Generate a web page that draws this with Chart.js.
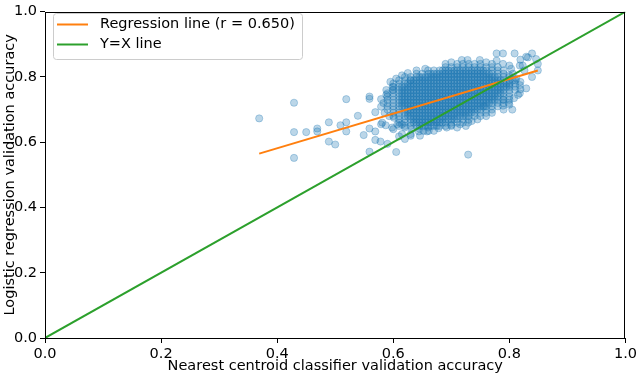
<!DOCTYPE html>
<html>
<head>
<meta charset="utf-8">
<script src="https://cdn.jsdelivr.net/npm/chart.js@4/dist/chart.umd.min.js"></script>
<style>
  html, body { margin: 0; padding: 0; background: #fff; }
  #wrap { width: 640px; height: 376px; }
</style>
</head>
<body>
<div id="wrap"><canvas id="chart" width="640" height="376"></canvas></div>
<script>
// axis ticks (both axes)
const tickValues = [0, 0.2, 0.4, 0.6, 0.8, 1.0];

// regression line end points
const regX = [0.369, 0.849];
const regY = [0.565, 0.820];

// y = x reference line
const identityX = [0, 1];
const identityY = [0, 1];

// sparse points around the cloud (nearest centroid acc, logistic regression acc)
const sparseNcc = [
  0.369, 0.429, 0.429, 0.450, 0.429, 0.469, 0.469, 0.489, 0.489, 0.500,
  0.509, 0.519, 0.519, 0.519, 0.539, 0.549, 0.559, 0.559, 0.559, 0.559,
  0.569, 0.569, 0.569, 0.578, 0.579, 0.579, 0.588, 0.599, 0.599, 0.590,
  0.579, 0.587, 0.600, 0.630,
  0.620, 0.632, 0.645, 0.660, 0.678, 0.692, 0.700, 0.630, 0.644, 0.658,
  0.646, 0.670, 0.610, 0.620, 0.605, 0.729, 0.729, 0.715,
  0.778, 0.789, 0.809, 0.839, 0.829, 0.846, 0.819, 0.718, 0.728, 0.749,
  0.778, 0.789, 0.849, 0.823, 0.803, 0.849, 0.806, 0.839, 0.806, 0.819,
  0.818, 0.819, 0.789, 0.799, 0.789, 0.757, 0.800,
  0.581, 0.598, 0.593, 0.601, 0.607, 0.615, 0.615, 0.630, 0.652, 0.661,
  0.585, 0.590, 0.583, 0.588, 0.595, 0.605, 0.615, 0.625, 0.640, 0.655,
  0.690, 0.700, 0.760, 0.770, 0.780, 0.790, 0.800, 0.812, 0.815, 0.808,
  0.805, 0.790, 0.770, 0.760, 0.745, 0.735, 0.725, 0.710,
  0.800, 0.818, 0.826, 0.818, 0.800, 0.829, 0.832
];
const sparseLr = [
  0.673, 0.721, 0.631, 0.631, 0.552, 0.642, 0.633, 0.661, 0.602, 0.593,
  0.652, 0.661, 0.633, 0.732, 0.681, 0.622, 0.740, 0.733, 0.642, 0.571,
  0.692, 0.633, 0.607, 0.602, 0.732, 0.709, 0.760, 0.770, 0.760, 0.595,
  0.655, 0.652, 0.640, 0.790,
  0.645, 0.640, 0.642, 0.645, 0.643, 0.645, 0.653, 0.625, 0.633, 0.633,
  0.620, 0.635, 0.618, 0.610, 0.570, 0.660, 0.562, 0.655,
  0.872, 0.872, 0.872, 0.872, 0.862, 0.855, 0.853, 0.852, 0.852, 0.852,
  0.850, 0.840, 0.840, 0.835, 0.825, 0.820, 0.810, 0.800, 0.790, 0.785,
  0.775, 0.762, 0.730, 0.720, 0.712, 0.710, 0.715,
  0.660, 0.645, 0.680, 0.675, 0.655, 0.655, 0.625, 0.620, 0.635, 0.635,
  0.690, 0.700, 0.720, 0.745, 0.785, 0.795, 0.805, 0.812, 0.820, 0.825,
  0.840, 0.845, 0.845, 0.840, 0.830, 0.820, 0.805, 0.795, 0.745, 0.735,
  0.700, 0.700, 0.690, 0.680, 0.670, 0.665, 0.650, 0.645,
  0.835, 0.835, 0.820, 0.750, 0.775, 0.765, 0.860
];

// dense cloud: one row per logistic regression accuracy level
const cloudLr = [0.84, 0.83, 0.82, 0.81, 0.80, 0.79, 0.78, 0.77, 0.76, 0.75,
  0.74, 0.73, 0.72, 0.71, 0.70, 0.69, 0.68, 0.67, 0.66, 0.65];
const cloudNcc = [
  [0.71, 0.72, 0.73, 0.74, 0.75],
  [0.69, 0.70, 0.71, 0.72, 0.73, 0.74, 0.75, 0.76, 0.77],
  [0.66, 0.67, 0.68, 0.685, 0.69, 0.695, 0.70, 0.705, 0.71, 0.715, 0.72, 0.725, 0.73, 0.735, 0.74, 0.745, 0.75, 0.755, 0.76, 0.77, 0.78],
  [0.64, 0.65, 0.66, 0.665, 0.67, 0.675, 0.68, 0.685, 0.69, 0.695, 0.70, 0.705, 0.71, 0.715, 0.72, 0.725, 0.73, 0.735, 0.74, 0.745, 0.75, 0.755, 0.76, 0.765, 0.77, 0.78, 0.79],
  [0.62, 0.63, 0.64, 0.645, 0.65, 0.655, 0.66, 0.665, 0.67, 0.675, 0.68, 0.685, 0.69, 0.695, 0.70, 0.705, 0.71, 0.715, 0.72, 0.725, 0.73, 0.735, 0.74, 0.745, 0.75, 0.755, 0.76, 0.765, 0.77, 0.775, 0.78, 0.79, 0.80],
  [0.61, 0.62, 0.63, 0.635, 0.64, 0.645, 0.65, 0.655, 0.66, 0.665, 0.67, 0.675, 0.68, 0.685, 0.69, 0.695, 0.70, 0.705, 0.71, 0.715, 0.72, 0.725, 0.73, 0.735, 0.74, 0.745, 0.75, 0.755, 0.76, 0.765, 0.77, 0.775, 0.78, 0.785, 0.79, 0.80, 0.81],
  [0.60, 0.61, 0.62, 0.625, 0.63, 0.635, 0.64, 0.645, 0.65, 0.655, 0.66, 0.665, 0.67, 0.675, 0.68, 0.685, 0.69, 0.695, 0.70, 0.705, 0.71, 0.715, 0.72, 0.725, 0.73, 0.735, 0.74, 0.745, 0.75, 0.755, 0.76, 0.765, 0.77, 0.775, 0.78, 0.785, 0.79, 0.795, 0.80, 0.81],
  [0.60, 0.61, 0.615, 0.62, 0.625, 0.63, 0.635, 0.64, 0.645, 0.65, 0.655, 0.66, 0.665, 0.67, 0.675, 0.68, 0.685, 0.69, 0.695, 0.70, 0.705, 0.71, 0.715, 0.72, 0.725, 0.73, 0.735, 0.74, 0.745, 0.75, 0.755, 0.76, 0.765, 0.77, 0.775, 0.78, 0.785, 0.79, 0.795, 0.80, 0.81],
  [0.60, 0.61, 0.615, 0.62, 0.625, 0.63, 0.635, 0.64, 0.645, 0.65, 0.655, 0.66, 0.665, 0.67, 0.675, 0.68, 0.685, 0.69, 0.695, 0.70, 0.705, 0.71, 0.715, 0.72, 0.725, 0.73, 0.735, 0.74, 0.745, 0.75, 0.755, 0.76, 0.765, 0.77, 0.775, 0.78, 0.785, 0.79, 0.80, 0.81],
  [0.59, 0.60, 0.61, 0.615, 0.62, 0.625, 0.63, 0.635, 0.64, 0.645, 0.65, 0.655, 0.66, 0.665, 0.67, 0.675, 0.68, 0.685, 0.69, 0.695, 0.70, 0.705, 0.71, 0.715, 0.72, 0.725, 0.73, 0.735, 0.74, 0.745, 0.75, 0.755, 0.76, 0.765, 0.77, 0.775, 0.78, 0.785, 0.79, 0.80],
  [0.59, 0.60, 0.61, 0.615, 0.62, 0.625, 0.63, 0.635, 0.64, 0.645, 0.65, 0.655, 0.66, 0.665, 0.67, 0.675, 0.68, 0.685, 0.69, 0.695, 0.70, 0.705, 0.71, 0.715, 0.72, 0.725, 0.73, 0.735, 0.74, 0.745, 0.75, 0.755, 0.76, 0.765, 0.77, 0.775, 0.78, 0.79, 0.80],
  [0.59, 0.60, 0.61, 0.615, 0.62, 0.625, 0.63, 0.635, 0.64, 0.645, 0.65, 0.655, 0.66, 0.665, 0.67, 0.675, 0.68, 0.685, 0.69, 0.695, 0.70, 0.705, 0.71, 0.715, 0.72, 0.725, 0.73, 0.735, 0.74, 0.745, 0.75, 0.755, 0.76, 0.765, 0.77, 0.775, 0.78, 0.79, 0.80],
  [0.59, 0.60, 0.61, 0.615, 0.62, 0.625, 0.63, 0.635, 0.64, 0.645, 0.65, 0.655, 0.66, 0.665, 0.67, 0.675, 0.68, 0.685, 0.69, 0.695, 0.70, 0.705, 0.71, 0.715, 0.72, 0.725, 0.73, 0.735, 0.74, 0.745, 0.75, 0.755, 0.76, 0.765, 0.77, 0.78, 0.79],
  [0.59, 0.60, 0.61, 0.615, 0.62, 0.625, 0.63, 0.635, 0.64, 0.645, 0.65, 0.655, 0.66, 0.665, 0.67, 0.675, 0.68, 0.685, 0.69, 0.695, 0.70, 0.705, 0.71, 0.715, 0.72, 0.725, 0.73, 0.735, 0.74, 0.745, 0.75, 0.755, 0.76, 0.77, 0.78],
  [0.60, 0.61, 0.62, 0.625, 0.63, 0.635, 0.64, 0.645, 0.65, 0.655, 0.66, 0.665, 0.67, 0.675, 0.68, 0.685, 0.69, 0.695, 0.70, 0.705, 0.71, 0.715, 0.72, 0.725, 0.73, 0.735, 0.74, 0.745, 0.75, 0.76, 0.77],
  [0.60, 0.61, 0.62, 0.625, 0.63, 0.635, 0.64, 0.645, 0.65, 0.655, 0.66, 0.665, 0.67, 0.675, 0.68, 0.685, 0.69, 0.695, 0.70, 0.705, 0.71, 0.715, 0.72, 0.725, 0.73, 0.735, 0.74, 0.75, 0.76],
  [0.60, 0.61, 0.62, 0.625, 0.63, 0.635, 0.64, 0.645, 0.65, 0.655, 0.66, 0.665, 0.67, 0.675, 0.68, 0.685, 0.69, 0.695, 0.70, 0.705, 0.71, 0.715, 0.72, 0.725, 0.73, 0.74, 0.75],
  [0.61, 0.62, 0.63, 0.635, 0.64, 0.645, 0.65, 0.655, 0.66, 0.665, 0.67, 0.675, 0.68, 0.685, 0.69, 0.695, 0.70, 0.705, 0.71, 0.72, 0.73],
  [0.61, 0.62, 0.63, 0.635, 0.64, 0.645, 0.65, 0.655, 0.66, 0.665, 0.67, 0.675, 0.68, 0.685, 0.69, 0.70, 0.71, 0.72],
  [0.61, 0.62, 0.63, 0.64, 0.645, 0.65, 0.655, 0.66, 0.665, 0.67, 0.675, 0.68, 0.69, 0.70]
];

const scatterPoints = [];
sparseNcc.forEach((x, i) => scatterPoints.push({ x: x, y: sparseLr[i] }));
cloudLr.forEach((y, i) => cloudNcc[i].forEach((x) => scatterPoints.push({ x: x, y: y })));

const FONT = "'DejaVu Sans', 'Liberation Sans', sans-serif";
const FONT_SIZE = 14.5;

// legend inside the axes plus the full black frame
const frameAndLegend = {
  id: "frameAndLegend",
  afterDraw(chart) {
    const ctx = chart.ctx;
    const a = chart.chartArea;
    ctx.save();

    ctx.strokeStyle = "#000000";
    ctx.lineWidth = 1;
    ctx.strokeRect(Math.round(a.left) + 0.5, Math.round(a.top) + 0.5,
      Math.round(a.right - a.left) - 1, Math.round(a.bottom - a.top));

    const bx = 53, by = 13, bw = 249, bh = 46;
    ctx.beginPath();
    ctx.roundRect(bx + 0.5, by + 0.5, bw, bh, 3);
    ctx.fillStyle = "rgba(255,255,255,0.8)";
    ctx.fill();
    ctx.strokeStyle = "#cccccc";
    ctx.stroke();

    const entries = chart.data.datasets.filter((d) => d.showLine);
    entries.forEach((d, i) => {
      const yy = 24.5 + i * 20;
      ctx.beginPath();
      ctx.moveTo(57, yy);
      ctx.lineTo(88, yy);
      ctx.strokeStyle = d.borderColor;
      ctx.lineWidth = 2;
      ctx.stroke();
      ctx.fillStyle = "#000000";
      ctx.font = FONT_SIZE + "px " + FONT;
      ctx.textBaseline = "middle";
      ctx.fillText(d.label, 100, yy);
    });
    ctx.restore();
  }
};

const axisCommon = {
  type: "linear",
  min: 0,
  max: 1,
  afterBuildTicks: (scale) => { scale.ticks = tickValues.map((v) => ({ value: v })); },
  ticks: {
    color: "#000000",
    padding: 3,
    font: { family: FONT, size: FONT_SIZE },
    callback: (v) => Number(v).toFixed(1)
  },
  grid: {
    display: true,
    drawOnChartArea: false,
    drawTicks: true,
    tickLength: 5,
    color: "#000000"
  },
  border: { display: false }
};

new Chart(document.getElementById("chart"), {
  type: "scatter",
  data: {
    datasets: [
      {
        label: "Regression line (r = 0.650)",
        data: regX.map((x, i) => ({ x: x, y: regY[i] })),
        showLine: true,
        borderColor: "#ff7f0e",
        borderWidth: 2,
        pointRadius: 0,
        order: 1
      },
      {
        label: "Y=X line",
        data: identityX.map((x, i) => ({ x: x, y: identityY[i] })),
        showLine: true,
        borderColor: "#2ca02c",
        borderWidth: 2,
        pointRadius: 0,
        order: 0
      },
      {
        label: "Runs",
        data: scatterPoints,
        backgroundColor: "rgba(31,119,180,0.3)",
        borderColor: "rgba(31,119,180,0.3)",
        borderWidth: 1,
        pointRadius: 3.6,
        order: 2
      }
    ]
  },
  options: {
    responsive: false,
    animation: false,
    events: [],
    layout: { padding: { top: 5, right: 10, left: 0, bottom: 0 } },
    plugins: {
      legend: { display: false },
      tooltip: { enabled: false }
    },
    scales: {
      x: Object.assign({}, axisCommon, {
        position: "bottom",
        afterFit: (s) => { s.height = 38; },
        title: {
          display: true,
          text: "Nearest centroid classifier validation accuracy",
          color: "#000000",
          font: { family: FONT, size: FONT_SIZE },
          padding: { top: 0, bottom: 1 }
        }
      }),
      y: Object.assign({}, axisCommon, {
        position: "left",
        afterFit: (s) => { s.width = 45; },
        title: {
          display: true,
          text: "Logistic regression validation accuracy",
          color: "#000000",
          font: { family: FONT, size: FONT_SIZE },
          padding: { top: 2, bottom: 0 }
        }
      })
    }
  },
  plugins: [frameAndLegend]
});
</script>
</body>
</html>
